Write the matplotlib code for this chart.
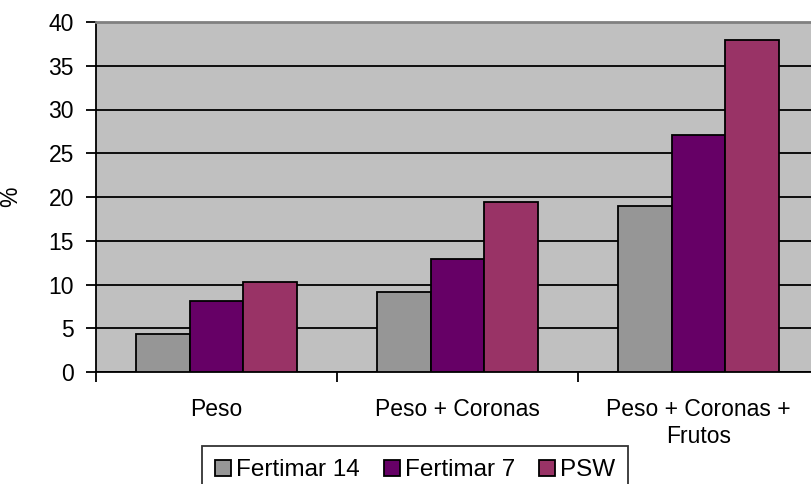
import numpy as np
import matplotlib
matplotlib.use("Agg")
import matplotlib.pyplot as plt

plt.rcParams['font.family'] = ['Liberation Sans', 'DejaVu Sans']

# data
categories = ['Peso', 'Peso + Coronas', 'Peso + Coronas +\nFrutos']
series_names = ['Fertimar 14', 'Fertimar 7', 'PSW']
fertimar14 = [4.3, 9.2, 19.0]
fertimar7 = [8.1, 12.9, 27.1]
psw = [10.3, 19.4, 37.9]
colors = ['#969696', '#660066', '#993366']

W, H = 812, 484
FS = 16.5
fig = plt.figure(figsize=(W / 100, H / 100), dpi=100)
# plot area runs slightly past the right edge, as in the original
ax = fig.add_axes([96 / W, (H - 372) / H, (819 - 96) / W, 350 / H])
ax.set_facecolor('#C0C0C0')

x = np.arange(len(categories))
bw = 1 / 4.5  # excel gap width 150%
for i, (vals, c, name) in enumerate(zip([fertimar14, fertimar7, psw], colors, series_names)):
    ax.bar(x + (i - 1) * bw, vals, bw, color=c, edgecolor='black', linewidth=1.3,
           label=name, zorder=3)

ax.set_xlim(-0.5, len(categories) - 0.5)
ax.set_ylim(0, 40)
ax.set_yticks(np.arange(0, 41, 5))
ax.yaxis.grid(True, color='black', linewidth=1.3, zorder=1)
ax.set_axisbelow(True)

# category labels centred, tick marks between categories
ax.set_xticks(x)
ax.set_xticklabels(categories)
ax.set_xticks(np.arange(-0.5, len(categories), 1), minor=True)
ax.tick_params(axis='x', which='major', length=0, pad=19, labelsize=FS)
ax.tick_params(axis='x', which='minor', length=7, width=1.3, direction='out')
ax.tick_params(axis='y', length=7, width=1.3, pad=9, labelsize=FS)

ax.spines['top'].set_color('#808080')
ax.spines['top'].set_linewidth(2)
ax.spines['right'].set_visible(False)
ax.spines['left'].set_linewidth(1.3)
ax.spines['bottom'].set_linewidth(1.3)

ax.set_ylabel('%', fontsize=FS)
ax.yaxis.set_label_coords((22 - 96) / 723, 0.5)

leg = fig.legend(loc='upper left', bbox_to_anchor=(202 / W, 1 - 446 / H), ncol=3,
                 fontsize=17.5, frameon=True, fancybox=False, edgecolor='black',
                 handlelength=0.65, handleheight=0.65, handletextpad=0.2,
                 columnspacing=1.0, borderpad=0.55, borderaxespad=0)
leg.get_frame().set_linewidth(1.3)
for p in leg.get_patches():
    p.set_edgecolor('black')
    p.set_linewidth(1.3)

fig.savefig('out.png', dpi=100)
